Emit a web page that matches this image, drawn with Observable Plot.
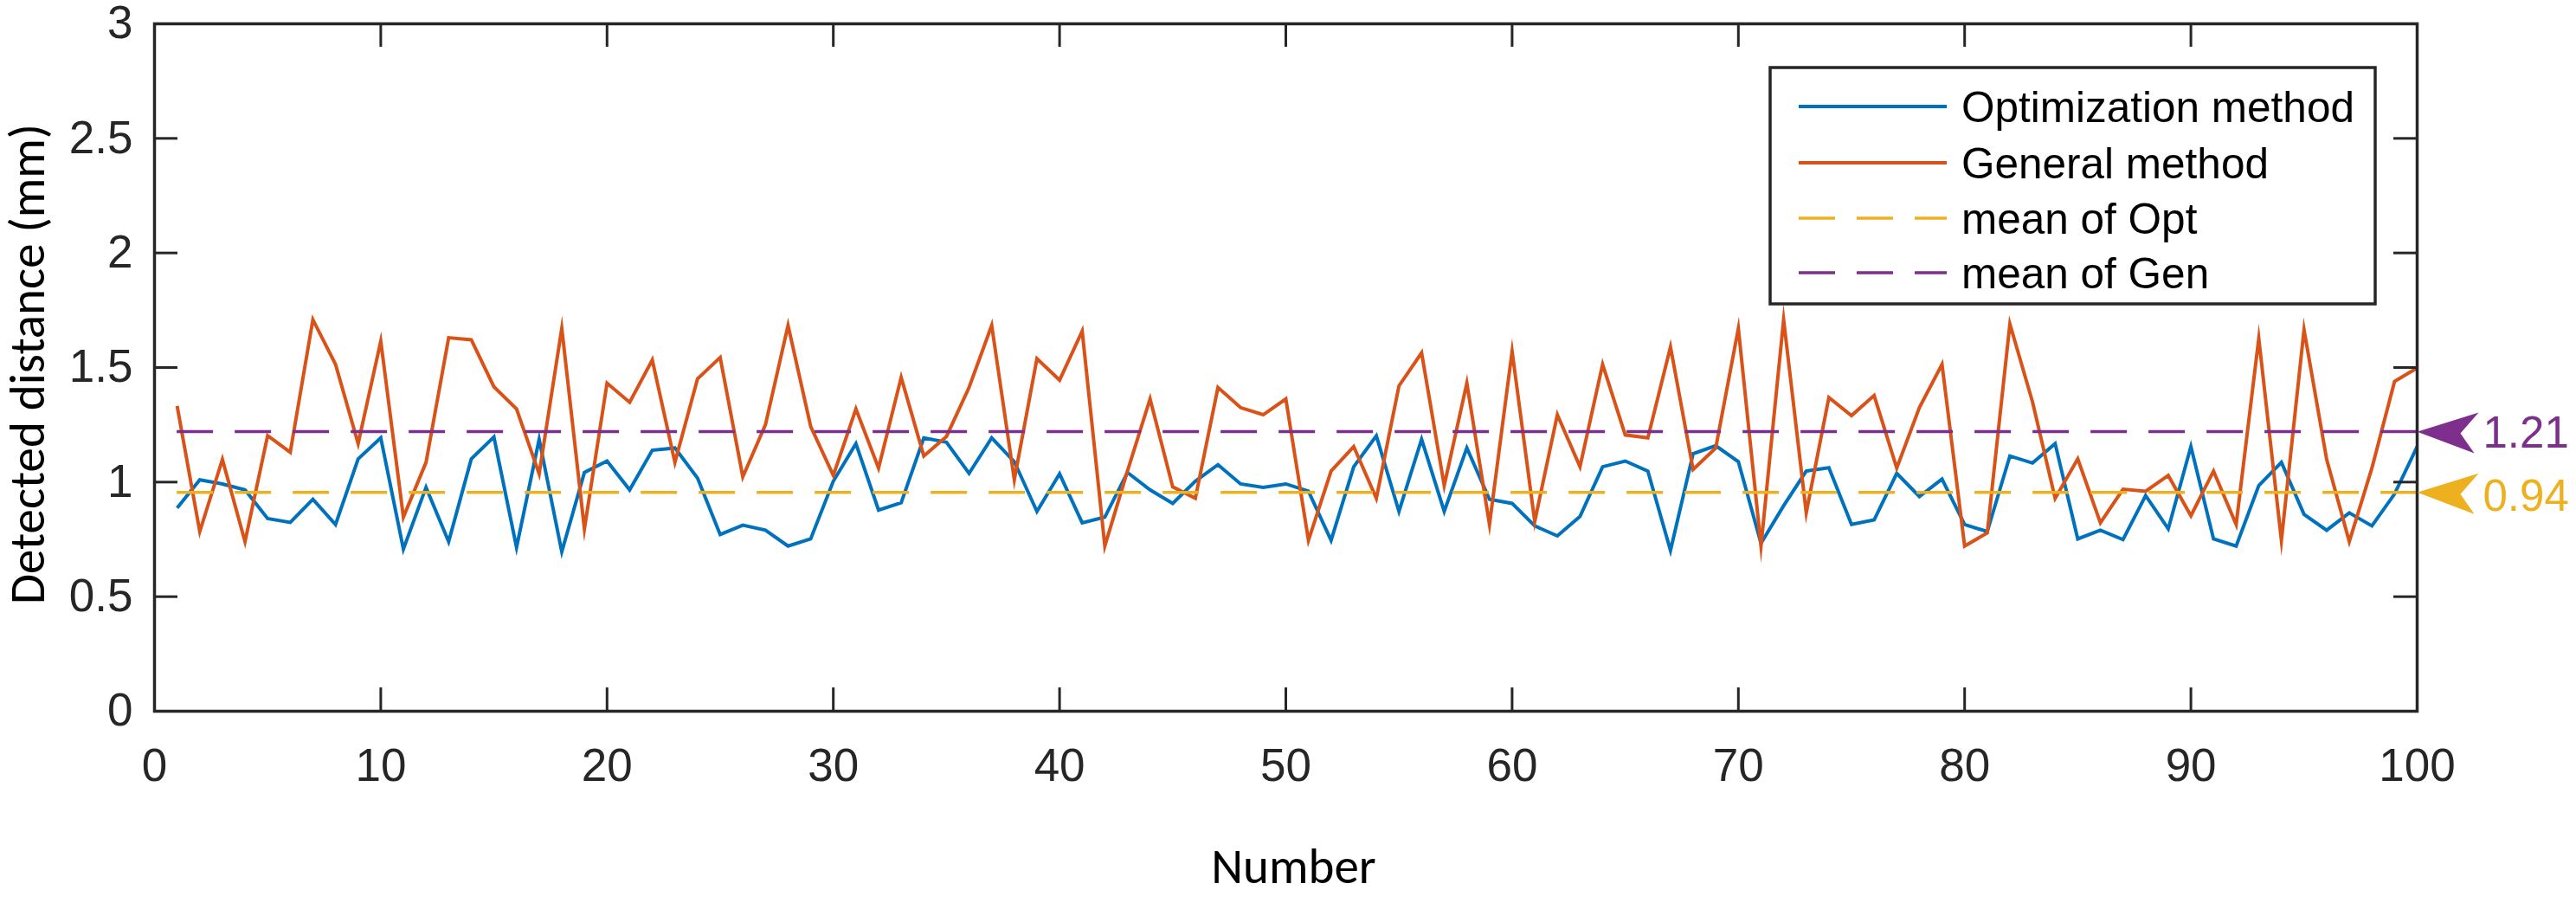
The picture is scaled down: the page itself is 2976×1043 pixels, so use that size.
<!DOCTYPE html>
<html>
<head>
<meta charset="utf-8">
<script src="https://cdn.jsdelivr.net/npm/d3@7"></script>
<script src="https://cdn.jsdelivr.net/npm/@observablehq/plot@0.6"></script>
<style>
  html, body { margin: 0; padding: 0; background: #fff; }
  #chart { position: relative; width: 2976px; height: 1043px; overflow: hidden; }
  #legend { position: absolute; left: 0; top: 0; }
</style>
</head>
<body>
<div id="chart"></div>
<script>
// ---------------- data ----------------
const optimization = [
  0.887, 1.010, 0.992, 0.966, 0.841, 0.824, 0.925, 0.815, 1.101, 1.193,
  0.708, 0.977, 0.740, 1.101, 1.197, 0.715, 1.187, 0.696, 1.042, 1.092,
  0.966, 1.139, 1.149, 1.017, 0.771, 0.812, 0.790, 0.721, 0.752, 1.004,
  1.168, 0.878, 0.910, 1.193, 1.174, 1.038, 1.193, 1.089, 0.872, 1.036,
  0.822, 0.847, 1.042, 0.966, 0.907, 1.004, 1.076, 0.992, 0.977, 0.992,
  0.960, 0.746, 1.067, 1.202, 0.872, 1.187, 0.872, 1.149, 0.925, 0.907,
  0.809, 0.765, 0.850, 1.067, 1.092, 1.048, 0.702, 1.124, 1.159, 1.089,
  0.733, 0.897, 1.048, 1.063, 0.815, 0.835, 1.038, 0.937, 1.013, 0.815,
  0.784, 1.114, 1.083, 1.168, 0.752, 0.790, 0.749, 0.941, 0.796, 1.155,
  0.752, 0.721, 0.985, 1.086, 0.859, 0.790, 0.866, 0.809, 0.948, 1.155
];
const general = [
  1.332, 0.784, 1.099, 0.740, 1.203, 1.130, 1.709, 1.514, 1.168, 1.615,
  0.847, 1.086, 1.630, 1.621, 1.416, 1.319, 1.036, 1.671, 0.796, 1.432,
  1.348, 1.533, 1.086, 1.451, 1.544, 1.023, 1.250, 1.684, 1.243, 1.029,
  1.319, 1.061, 1.457, 1.114, 1.199, 1.413, 1.684, 1.010, 1.539, 1.445,
  1.659, 0.721, 1.048, 1.363, 0.979, 0.929, 1.413, 1.325, 1.294, 1.363,
  0.746, 1.048, 1.155, 0.929, 1.420, 1.564, 0.985, 1.432, 0.815, 1.571,
  0.828, 1.294, 1.067, 1.514, 1.206, 1.193, 1.590, 1.055, 1.149, 1.671,
  0.721, 1.709, 0.866, 1.369, 1.290, 1.378, 1.061, 1.325, 1.514, 0.721,
  0.778, 1.690, 1.350, 0.929, 1.101, 0.822, 0.969, 0.960, 1.029, 0.853,
  1.048, 0.815, 1.627, 0.746, 1.665, 1.099, 0.740, 1.061, 1.439, 1.498
];
const meanOpt = 0.955;   // drawn position of the "mean of Opt" line
const meanGen = 1.22;    // drawn position of the "mean of Gen" line
const meanOptLabel = "0.94";
const meanGenLabel = "1.21";
const xTicks = [0, 10, 20, 30, 40, 50, 60, 70, 80, 90, 100];
const yTicks = [0, 0.5, 1, 1.5, 2, 2.5, 3];
const seriesNames = ["Optimization method", "General method", "mean of Opt", "mean of Gen"];
const seriesColors = ["#0072BD", "#D95319", "#EDB120", "#7E2F8E"];
const xLabel = "Number";
const yLabel = "Detected distance (mm)";

// ---------------- layout ----------------
const W = 2976, H = 1043;
const mL = 178, mR = 184, mT = 27, mB = 222;
const innerW = W - mL - mR, innerH = H - mT - mB;
const TICK = 27;
const axisColor = "#262626";
const dash = "42,25";
const fmt = d => String(d);

const rows = optimization.map((v, i) => ({n: i + 1, opt: v, gen: general[i]}));

// notched arrow head, tip at the origin, pointing left
const notchArrow = {
  draw(ctx) {
    ctx.moveTo(0, 0);
    ctx.lineTo(71, -22);
    ctx.lineTo(50, 2);
    ctx.lineTo(66, 25);
    ctx.closePath();
  }
};

const lineStyle = {strokeWidth: 4, strokeLinejoin: "miter", strokeMiterlimit: 10, strokeLinecap: "butt"};
const titleFont = "Carlito, Calibri, Lato, 'Open Sans', sans-serif";

const plot = Plot.plot({
  width: W, height: H,
  marginLeft: mL, marginRight: mR, marginTop: mT, marginBottom: mB,
  style: {background: "#fff", fontFamily: "'Liberation Sans', Arial, sans-serif", overflow: "visible"},
  x: {domain: [0, 100], label: null},
  y: {domain: [0, 3], label: null},
  marks: [
    Plot.lineY(rows, {x: "n", y: "opt", stroke: seriesColors[0], ...lineStyle}),
    Plot.lineY(rows, {x: "n", y: "gen", stroke: seriesColors[1], ...lineStyle}),
    Plot.ruleY([meanOpt], {x1: 1, x2: 100, stroke: seriesColors[2], strokeWidth: 3.5, strokeDasharray: dash}),
    Plot.ruleY([meanGen], {x1: 1, x2: 100, stroke: seriesColors[3], strokeWidth: 3.5, strokeDasharray: dash}),
    // inward ticks on all four sides
    Plot.tickX(xTicks, {x: d => d, insetTop: innerH - TICK, stroke: axisColor, strokeWidth: 3}),
    Plot.tickX(xTicks, {x: d => d, insetBottom: innerH - TICK, stroke: axisColor, strokeWidth: 3}),
    Plot.tickY(yTicks, {y: d => d, insetRight: innerW - TICK, stroke: axisColor, strokeWidth: 3}),
    Plot.tickY(yTicks, {y: d => d, insetLeft: innerW - TICK, stroke: axisColor, strokeWidth: 3}),
    Plot.frame({stroke: axisColor, strokeWidth: 3.5}),
    Plot.axisX(xTicks, {tickSize: 0, tickPadding: 43, fontSize: 53, fill: axisColor, tickFormat: fmt, label: null}),
    Plot.axisY(yTicks, {tickSize: 0, tickPadding: 25, fontSize: 53, fill: axisColor, tickFormat: fmt, label: null}),
    // mean annotations on the right
    Plot.dot([meanGen], {x: () => 100, y: d => d, symbol: notchArrow, fill: seriesColors[3], stroke: "none"}),
    Plot.dot([meanOpt], {x: () => 100, y: d => d, symbol: notchArrow, fill: seriesColors[2], stroke: "none"}),
    Plot.text([meanGen], {x: () => 100, y: d => d, text: () => meanGenLabel, dx: 76, dy: 2, textAnchor: "start",
      fill: seriesColors[3], fontSize: 51}),
    Plot.text([meanOpt], {x: () => 100, y: d => d, text: () => meanOptLabel, dx: 76, dy: 5, textAnchor: "start",
      fill: seriesColors[2], fontSize: 51}),
    // axis titles
    Plot.text([yLabel], {frameAnchor: "left", text: d => d, rotate: -90, dx: -146, dy: -4,
      textAnchor: "middle", lineAnchor: "middle", fontSize: 57, fontFamily: titleFont, fill: "#000"}),
    Plot.text([xLabel], {frameAnchor: "bottom", text: d => d, dx: 9, dy: 180,
      textAnchor: "middle", lineAnchor: "middle", fontSize: 57, fontFamily: titleFont, fill: "#000"})
  ]
});

const chart = document.getElementById("chart");
chart.appendChild(plot);

// ---------------- legend (inside the axes, top right) ----------------
const lg = d3.select(chart).append("svg")
  .attr("id", "legend")
  .attr("width", W).attr("height", H)
  .style("pointer-events", "none");
const box = {x: 2045, y: 78, w: 699, h: 273};
lg.append("rect")
  .attr("x", box.x).attr("y", box.y).attr("width", box.w).attr("height", box.h)
  .attr("fill", "#fff").attr("stroke", axisColor).attr("stroke-width", 3.5);
const rowY = [123, 188, 252, 315];
seriesNames.forEach((name, i) => {
  lg.append("line")
    .attr("x1", 2078).attr("x2", 2249).attr("y1", rowY[i]).attr("y2", rowY[i])
    .attr("stroke", seriesColors[i]).attr("stroke-width", i < 2 ? 4 : 3.5)
    .attr("stroke-dasharray", i < 2 ? null : dash);
  lg.append("text")
    .attr("x", 2266).attr("y", rowY[i]).attr("dy", "0.36em")
    .attr("font-family", "'Liberation Sans', Arial, sans-serif")
    .attr("font-size", 49.5).attr("fill", "#000")
    .text(name);
});
</script>
</body>
</html>
